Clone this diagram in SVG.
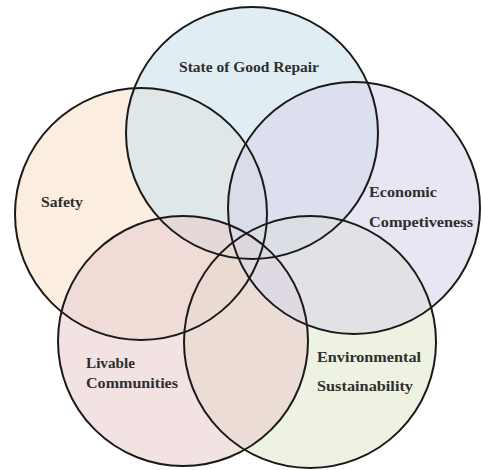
<svg xmlns="http://www.w3.org/2000/svg" width="482" height="470" viewBox="0 0 482 470">
<style>
.f{stroke:none;fill-opacity:0.6}
.o{stroke:#1a1a1a;stroke-width:2;fill:none}
.t{font-family:"Liberation Serif","DejaVu Serif",serif;font-weight:bold;font-size:15px;fill:#2e2e2e}
</style>
<rect width="482" height="470" fill="#ffffff"/>
<g id="safety"><circle class="f" cx="141" cy="214" r="126" fill="#fae1cd"/></g>
<g id="state-of-good-repair"><circle class="f" cx="252" cy="133" r="126" fill="#cbe3ed"/></g>
<g id="environmental-sustainability"><circle class="f" cx="310" cy="342" r="126" fill="#e3e9cf"/></g>
<g id="livable-communities"><circle class="f" cx="183" cy="341" r="125" fill="#e9cfcf"/></g>
<g id="economic-competitiveness"><circle class="f" cx="354" cy="208" r="126" fill="#d9d5e9"/></g>
<g id="outlines">
<circle class="o" cx="141" cy="214" r="126"/>
<circle class="o" cx="252" cy="133" r="126"/>
<circle class="o" cx="310" cy="342" r="126"/>
<circle class="o" cx="183" cy="341" r="125"/>
<circle class="o" cx="354" cy="208" r="126"/>
</g>
<g id="labels">
<text class="t" x="179" y="72" textLength="140" lengthAdjust="spacingAndGlyphs">State of Good Repair</text>
<text class="t" x="41" y="207" textLength="42" lengthAdjust="spacingAndGlyphs">Safety</text>
<text class="t" x="369" y="197" textLength="68" lengthAdjust="spacingAndGlyphs">Economic</text>
<text class="t" x="369" y="227" textLength="104" lengthAdjust="spacingAndGlyphs">Competiveness</text>
<text class="t" x="86" y="368" textLength="49" lengthAdjust="spacingAndGlyphs">Livable</text>
<text class="t" x="86" y="388" textLength="92" lengthAdjust="spacingAndGlyphs">Communities</text>
<text class="t" x="317" y="362" textLength="104" lengthAdjust="spacingAndGlyphs">Environmental</text>
<text class="t" x="317" y="391" textLength="96" lengthAdjust="spacingAndGlyphs">Sustainability</text>
</g>
</svg>
